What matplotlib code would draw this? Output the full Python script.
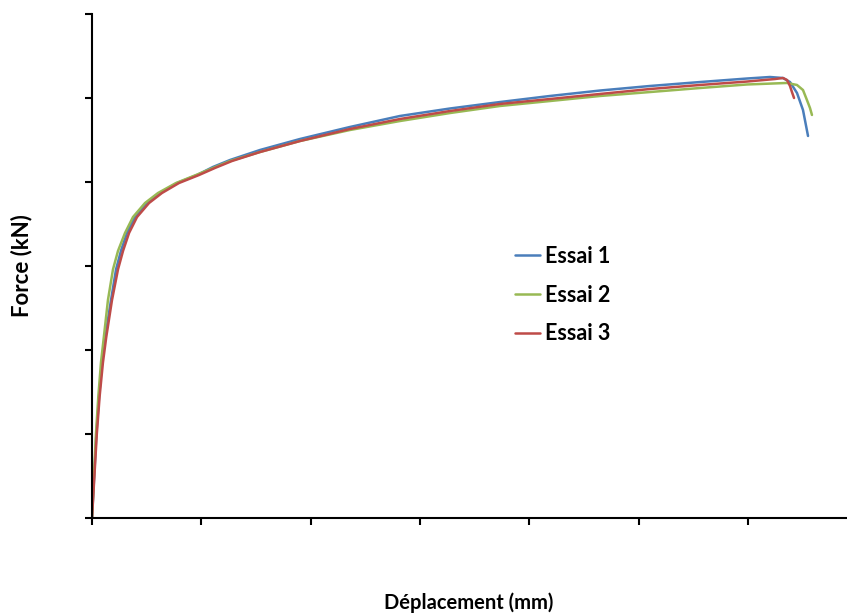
import matplotlib
matplotlib.use("Agg")
import matplotlib.pyplot as plt

# Essai 1 (blue)
x1 = [0, 0.020, 0.040, 0.065, 0.092, 0.120, 0.174, 0.220, 0.265, 0.320, 0.393, 0.503, 0.622, 0.778, 0.961,
      1.107, 1.263, 1.537, 1.903, 2.360, 2.818, 3.275, 3.733, 4.190, 4.648, 5.105, 5.563, 5.993, 6.203,
      6.322, 6.386, 6.450, 6.505, 6.551]
y1 = [0, 0.50, 1.00, 1.45, 1.85, 2.15, 2.595, 2.960, 3.180, 3.393, 3.583, 3.750, 3.869, 3.988, 4.083,
      4.179, 4.262, 4.381, 4.512, 4.655, 4.786, 4.875, 4.952, 5.024, 5.089, 5.143, 5.190, 5.232, 5.250,
      5.238, 5.190, 5.060, 4.857, 4.548]

# Essai 2 (green)
x2 = [0, 0.018, 0.036, 0.058, 0.082, 0.108, 0.146, 0.192, 0.238, 0.302, 0.375, 0.485, 0.604, 0.769, 0.951,
      1.107, 1.263, 1.537, 1.903, 2.360, 2.818, 3.275, 3.733, 4.190, 4.648, 5.105, 5.563, 5.993, 6.359,
      6.450, 6.505, 6.541, 6.569, 6.587]
y2 = [0, 0.50, 1.00, 1.45, 1.85, 2.15, 2.595, 2.960, 3.180, 3.393, 3.583, 3.750, 3.869, 3.988, 4.083,
      4.167, 4.250, 4.357, 4.488, 4.619, 4.726, 4.821, 4.905, 4.964, 5.024, 5.071, 5.119, 5.161, 5.179,
      5.155, 5.095, 4.976, 4.881, 4.798]

# Essai 3 (red)
x3 = [0, 0.022, 0.044, 0.070, 0.100, 0.130, 0.183, 0.238, 0.284, 0.339, 0.412, 0.522, 0.640, 0.796, 0.979,
      1.125, 1.281, 1.537, 1.903, 2.360, 2.818, 3.275, 3.733, 4.190, 4.648, 5.105, 5.563, 5.993, 6.249,
      6.322, 6.359, 6.386, 6.404, 6.423]
y3 = [0, 0.50, 1.00, 1.45, 1.85, 2.15, 2.595, 2.960, 3.180, 3.393, 3.583, 3.750, 3.869, 3.988, 4.083,
      4.167, 4.250, 4.357, 4.488, 4.631, 4.750, 4.845, 4.929, 4.988, 5.048, 5.107, 5.155, 5.196, 5.226,
      5.238, 5.214, 5.143, 5.071, 5.0]

labels = ["Essai 1", "Essai 2", "Essai 3"]
colors = ["#4A7EBB", "#98B954", "#BE4B48"]

fig = plt.figure(figsize=(8.47, 6.15), dpi=100)
ax = fig.add_axes([92/847, 1 - 518/615, 755/847, 504/615])

for xs, ys, lab, c in zip([x1, x2, x3], [y1, y2, y3], labels, colors):
    ax.plot(xs, ys, color=c, lw=1.8, label=lab, solid_capstyle="round", solid_joinstyle="round")

ax.set_xlim(0, 755/109.3)
ax.set_ylim(0, 6)
ax.set_xticks(range(0, 7))
ax.set_yticks(range(0, 7))
ax.set_xticklabels([])
ax.set_yticklabels([])
ax.tick_params(direction="out", length=5, width=1.5, color="black")
for s in ["top", "right"]:
    ax.spines[s].set_visible(False)
for s in ["left", "bottom"]:
    ax.spines[s].set_linewidth(1.5)

fam = ["Lato", "DejaVu Sans"]
fig.text(22/847, 1 - 266/615, "Force (kN)", rotation=90, ha="center", va="center",
         family=fam, weight="bold", size=16)
fig.text(469/847, 1 - 603/615, "Déplacement (mm)", ha="center", va="center",
         family=fam, weight="bold", size=14.5)

leg = ax.legend(loc="upper left", bbox_to_anchor=((515-92)/755, (518-246)/504), frameon=False,
                prop=dict(family=fam, weight="bold", size=15.5),
                handlelength=1.16, handletextpad=0.25, labelspacing=0.82, borderpad=0, borderaxespad=0)

fig.savefig("out.png", dpi=100)
